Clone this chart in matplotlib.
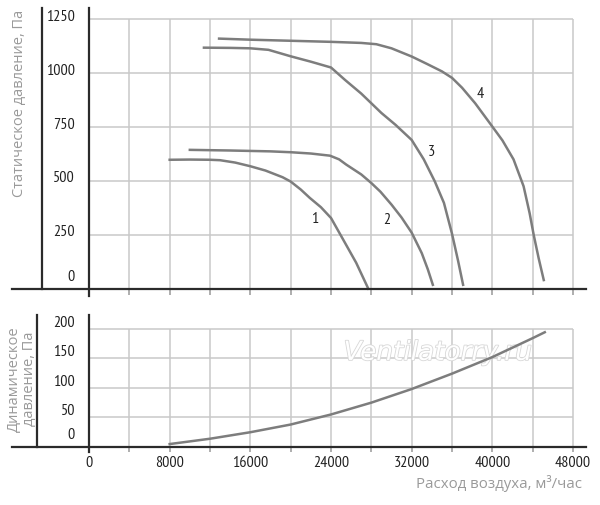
import matplotlib
matplotlib.use('Agg')
import matplotlib.pyplot as plt
import matplotlib.patheffects as pe
import numpy as np

plt.rcParams['font.family'] = ['Open Sans', 'DejaVu Sans']

# Данные
q1 = [8000, 10000, 12000, 13000, 14500, 16000, 17500, 19200, 20000, 21000, 21900, 23000, 24000, 25000, 26500, 27700]
p1 = [598, 599, 598, 596, 585, 568, 548, 517, 497, 460, 421, 378, 328, 245, 120, 0]

q2 = [10000, 14000, 18000, 20000, 22000, 23900, 24800, 25500, 27000, 28000, 28900, 30000, 31000, 32000, 33000, 33600, 34100]
p2 = [644, 641, 637, 633, 627, 617, 600, 576, 530, 490, 450, 390, 330, 260, 165, 90, 18]

q3 = [11400, 14000, 16000, 17800, 20000, 22000, 24000, 25400, 27000, 28000, 29000, 30400, 32000, 33200, 34300, 35200, 36000, 36600, 37100]
p3 = [1118, 1117, 1115, 1108, 1078, 1053, 1026, 968, 905, 860, 815, 760, 690, 600, 497, 398, 255, 130, 18]

q4 = [12900, 16000, 20000, 24000, 27000, 28500, 30000, 32000, 33500, 35000, 36000, 37000, 38300, 40000, 41000, 42100, 43100, 43700, 44100, 44600, 45100]
p4 = [1160, 1155, 1150, 1145, 1140, 1134, 1115, 1077, 1043, 1008, 978, 932, 860, 752, 688, 600, 475, 350, 250, 140, 40]

q_dyn = [8000, 12000, 16000, 20000, 24000, 28000, 32000, 36000, 40000, 44000, 45200]
p_dyn = [5, 14, 25, 38, 55, 75, 98, 124, 152, 184, 194]

curve_labels = ['1', '2', '3', '4']
label_q = [22400, 29500, 34000, 38800]
label_p = [322, 319, 636, 902]

x_labels = [0, 8000, 16000, 24000, 32000, 40000, 48000]
top_ticks = [0, 250, 500, 750, 1000, 1250]
bot_ticks = [0, 50, 100, 150, 200]

GRID = '#c9c9c9'
CURVE = '#7d7d7d'
DARK = '#2b2b2b'
TITLE = '#9a9a9a'
num_font = dict(family=['PT Sans Narrow', 'DejaVu Sans Condensed'], fontsize=11.5, color='#222222')

fig = plt.figure(figsize=(6, 5.05), dpi=100)
ax1 = fig.add_axes([12/600, 1 - 296/505, 574/600, 288/505])
ax2 = fig.add_axes([12/600, 1 - 454/505, 574/600, 142/505])

xl = (-7636, 49289)
ax1.set_xlim(*xl)
ax1.set_ylim(-33.9, 1302)
ax2.set_xlim(*xl)
ax2.set_ylim(-11.8, 228.2)

xgrid = np.arange(4000, 48001, 4000)

for ax, ticks, ytop, tlen, xleft, ltop in [(ax1, top_ticks, 1250, 6, -4661, 1302),
                                           (ax2, bot_ticks, 200, 5, -5157, 223)]:
    ax.set_facecolor('none')
    for s in ['top', 'right']:
        ax.spines[s].set_visible(False)
    ax.spines['left'].set_position(('data', 0))
    ax.spines['bottom'].set_position(('data', 0))
    for s in ['left', 'bottom']:
        ax.spines[s].set_color(DARK)
        ax.spines[s].set_linewidth(1.6)
        ax.spines[s].set_zorder(4)
    ax.vlines(xgrid, 0, ytop, color=GRID, lw=1.1, zorder=1)
    ax.hlines(ticks[1:], 0, 48000, color=GRID, lw=1.1, zorder=1)
    ax.plot([xleft, xleft], [0, ltop], color=DARK, lw=1.6, clip_on=False)
    ax.set_xticks(np.arange(0, 48001, 4000))
    ax.tick_params(axis='x', direction='out', length=tlen * 0.72, width=1.1,
                   color='#999999', labelbottom=False)
    ax.tick_params(axis='y', left=False, labelleft=False)

ax2.spines['left'].set_bounds(-8.5, 223)

# подписи делений по Y
for v in top_ticks:
    off = 11.7 if v == 0 else 2.5
    ax1.annotate(str(v), (-1388, v), xytext=(0, off), textcoords='offset pixels',
                 ha='right', va='center', **num_font)
for v in bot_ticks:
    off = 12 if v == 0 else 6
    ax2.annotate(str(v), (-1388, v), xytext=(0, off), textcoords='offset pixels',
                 ha='right', va='center', **num_font)

for v in x_labels:
    ax2.annotate(str(v), (v, 0), xytext=(0, -16), textcoords='offset pixels',
                 ha='center', va='center', **num_font)

for q, p in [(q1, p1), (q2, p2), (q3, p3), (q4, p4)]:
    ax1.plot(q, p, color=CURVE, lw=1.8, solid_joinstyle='round', zorder=3)
for t, q, p in zip(curve_labels, label_q, label_p):
    ax1.text(q, p, t, ha='center', va='center', **num_font)

ax2.text(34600, 159, 'Ventilatorry.ru', ha='center', va='center', fontsize=19,
         style='italic', family='DejaVu Sans', color='white', zorder=2,
         path_effects=[pe.withStroke(linewidth=1.2, foreground='#d8d8d8')])
ax2.plot(q_dyn, p_dyn, color=CURVE, lw=1.8, solid_joinstyle='round', zorder=3)

fig.text(19.5/600, 1 - 103.5/505, 'Статическое давление, Па', rotation=90,
         ha='center', va='center', fontsize=10.5, color=TITLE)
fig.text(22/600, 1 - 379/505, 'Динамическое\nдавление, Па', rotation=90,
         ha='center', va='center', fontsize=10.5, color=TITLE, linespacing=0.95)
fig.text(582/600, 1 - 483/505, 'Расход воздуха, м³/час', ha='right', va='center',
         fontsize=10.8, color=TITLE)

fig.savefig('out.png', dpi=100)
